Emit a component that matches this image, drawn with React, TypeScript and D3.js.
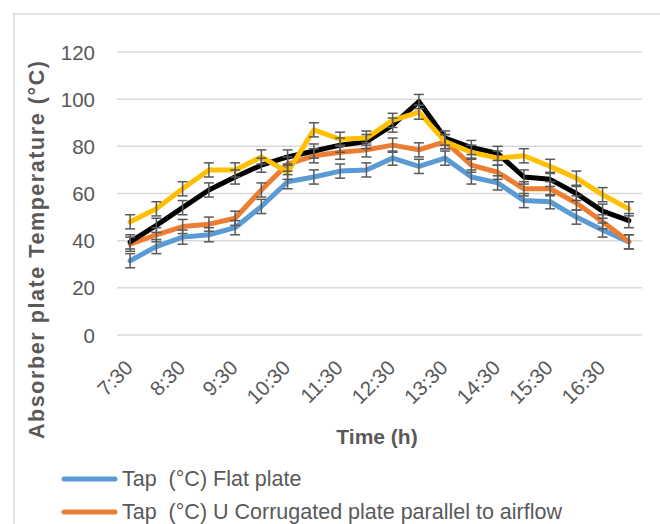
import React from 'react'
import * as d3 from 'd3'

const times = [
  '7:30', '8:00', '8:30', '9:00', '9:30', '10:00', '10:30', '11:00', '11:30', '12:00',
  '12:30', '13:00', '13:30', '14:00', '14:30', '15:00', '15:30', '16:00', '16:30', '17:00',
]
const flatPlate = [31.5, 37.5, 41.5, 42.5, 45.5, 54.5, 65, 67, 69.5, 70, 75, 71.5, 75, 67, 64.5, 57, 56.5, 50, 44.5, 39.5]
const uParallel = [38.5, 42.5, 46, 47, 49.5, 61.5, 72.5, 76, 77.5, 78.5, 80.5, 78.5, 82, 72, 69, 62, 62, 56, 48, 39.5]
const blackSeries = [39.5, 46.5, 54, 61.5, 67, 72, 75.5, 78, 80.5, 82, 89, 99, 83.5, 79.5, 77, 67, 66, 60, 52.5, 48.5]
const yellowSeries = [48, 53.5, 62, 70, 70, 75.5, 69, 87, 83, 83.5, 91, 94.5, 82, 77.5, 75, 76, 71.5, 66.5, 59.5, 53.5]
const errorValue = 3
const yTicks = [0, 20, 40, 60, 80, 100, 120]
const legendNames = ['Tap  (°C) Flat plate', 'Tap  (°C) U Corrugated plate parallel to airflow']

const seriesList = [
  { values: flatPlate, color: '#5B9BD5' },
  { values: uParallel, color: '#ED7D31' },
  { values: blackSeries, color: '#000000' },
  { values: yellowSeries, color: '#FFC000' },
]

const font = '"Liberation Sans", Arial, sans-serif'
const textColor = '#595959'
const gridColor = '#D9D9D9'

export default function App() {
  const x = d3.scaleBand<string>().domain(times).range([117, 642])
  const cx = (t: string) => (x(t) ?? 0) + x.bandwidth() / 2
  const y = d3.scaleLinear().domain([0, 120]).range([335, 52])

  const line = d3
    .line<number>()
    .x((_, i) => cx(times[i]))
    .y((d) => y(d))

  const capHalf = 5

  return (
    <svg
      width={660}
      height={524}
      style={{ position: 'absolute', left: 0, top: 0, background: '#fff' }}
    >
      {/* chart area border */}
      <rect x={14} y={14} width={700} height={600} fill="none" stroke={gridColor} strokeWidth={1.5} />

      {/* gridlines and y ticks */}
      {yTicks.map((t) => (
        <g key={t}>
          <line x1={117} x2={642} y1={y(t)} y2={y(t)} stroke={gridColor} strokeWidth={1.5} />
          <text
            x={95}
            y={y(t)}
            textAnchor="end"
            dominantBaseline="central"
            fontFamily={font}
            fontSize={20.5}
            fill={textColor}
          >
            {t}
          </text>
        </g>
      ))}

      {/* x tick labels */}
      {times
        .filter((_, i) => i % 2 === 0)
        .map((t) => {
          const ax = cx(t) + 4
          const ay = 369
          return (
            <text
              key={t}
              x={ax}
              y={ay}
              transform={`rotate(-45, ${ax}, ${ay})`}
              textAnchor="end"
              fontFamily={font}
              fontSize={20.5}
              fill={textColor}
            >
              {t}
            </text>
          )
        })}

      {/* lines */}
      {seriesList.map((s, k) => (
        <path
          key={k}
          d={line(s.values) ?? ''}
          fill="none"
          stroke={s.color}
          strokeWidth={5}
          strokeLinejoin="round"
          strokeLinecap="round"
        />
      ))}

      {/* error bars */}
      {seriesList.map((s, k) => (
        <g key={k} stroke="#595959" strokeWidth={1.5}>
          {s.values.map((v, i) => {
            const px = cx(times[i])
            const top = y(v + errorValue)
            const bot = y(v - errorValue)
            return (
              <g key={i}>
                <line x1={px} x2={px} y1={top} y2={bot} />
                <line x1={px - capHalf} x2={px + capHalf} y1={top} y2={top} />
                <line x1={px - capHalf} x2={px + capHalf} y1={bot} y2={bot} />
              </g>
            )
          })}
        </g>
      ))}

      {/* axis titles */}
      <text
        x={377}
        y={444}
        textAnchor="middle"
        fontFamily={font}
        fontSize={21}
        fontWeight="bold"
        fill={textColor}
      >
        Time (h)
      </text>
      <text
        transform="translate(44, 250) rotate(-90)"
        textAnchor="middle"
        fontFamily={font}
        fontSize={21.5}
        fontWeight="bold"
        fill={textColor}
        textLength={378}
        lengthAdjust="spacing"
      >
        Absorber plate Temperature (°C)
      </text>

      {/* legend */}
      {legendNames.map((name, i) => {
        const ly = 479 + i * 33
        return (
          <g key={name}>
            <line
              x1={64}
              x2={115}
              y1={ly}
              y2={ly}
              stroke={seriesList[i].color}
              strokeWidth={5}
              strokeLinecap="round"
            />
            <text
              x={122}
              y={ly}
              dominantBaseline="central"
              fontFamily={font}
              fontSize={21.5}
              fill={textColor}
              style={{ whiteSpace: 'pre' }}
            >
              {name}
            </text>
          </g>
        )
      })}
    </svg>
  )
}
